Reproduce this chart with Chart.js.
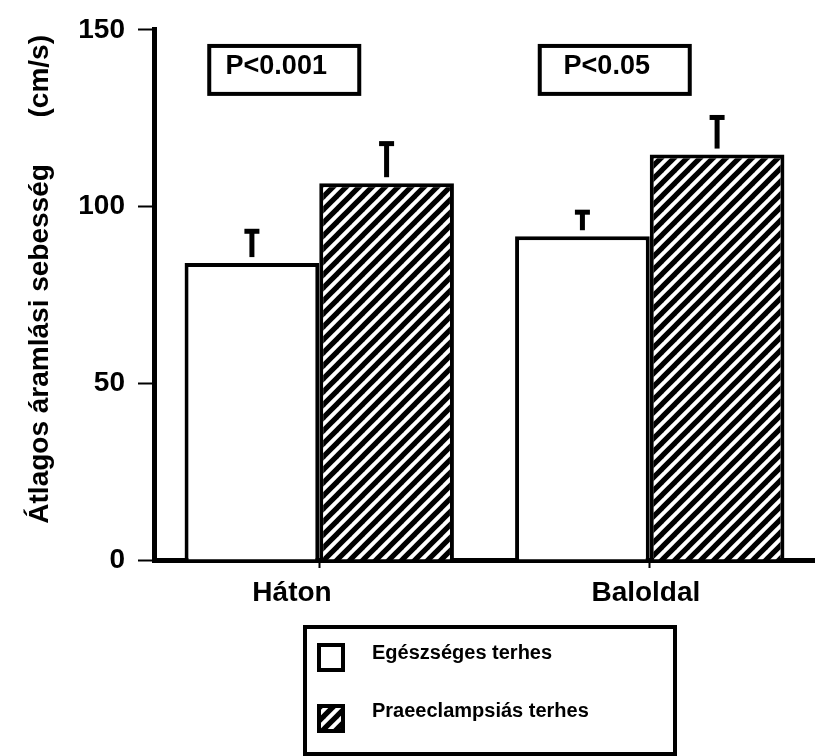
<!DOCTYPE html>
<html>
<head>
<meta charset="utf-8">
<script src="https://cdn.jsdelivr.net/npm/chart.js@4"></script>
<style>
html, body { margin:0; padding:0; background:#fff; overflow:hidden; }
#wrap { width:815px; height:756px; }
</style>
</head>
<body>
<div id="wrap"><canvas id="myChart" width="815" height="756"></canvas></div>
<script>
const kategoriak = ['Háton', 'Baloldal']
const egeszseges = [84, 91.6]
const egeszsegesHiba = [9, 6.8]
const praeeclampsias = [106.6, 114.7]
const praeeclampsiasHiba = [11.2, 10.5]
const pFeliratok = ['P<0.001', 'P<0.05']
const csoportok = ['Egészséges terhes', 'Praeeclampsiás terhes']
const yMin = 0, yMax = 150, yLepes = 50
const yCim = '    Átlagos áramlási sebesség      (cm/s)'

const betu = "'Liberation Sans', Arial, sans-serif"
Chart.defaults.font.family = betu
Chart.defaults.color = '#000'

// csikos minta a praeeclampsias oszlopokhoz
function csikos(){
    const s = 13
    const c = document.createElement('canvas')
    c.width = s; c.height = s
    const g = c.getContext('2d')
    g.fillStyle = '#fff'
    g.fillRect(0, 0, s, s)
    g.strokeStyle = '#000'
    g.lineWidth = 5.2
    for (const k of [-s, 0, s]) {
        g.beginPath()
        g.moveTo(k - 2, s + 2)
        g.lineTo(k + s + 2, -2)
        g.stroke()
    }
    return g.createPattern(c, 'repeat')
}
const minta = csikos()

const extrak = {
    id: 'extrak',
    afterDatasetsDraw(chart){
        const ctx = chart.ctx
        const y = chart.scales.y
        const x = chart.scales.x
        const hibak = [egeszsegesHiba, praeeclampsiasHiba]
        ctx.save()
        ctx.fillStyle = '#000'
        // hibasavok (csak felfele)
        chart.data.datasets.forEach((ds, i) => {
            chart.getDatasetMeta(i).data.forEach((bar, j) => {
                const top = y.getPixelForValue(ds.data[j] + hibak[i][j])
                const alj = bar.y - 6
                ctx.fillRect(bar.x - 2.5, top, 5, alj - top)
                ctx.fillRect(bar.x - 7.5, top - 2.5, 15, 5)
            })
        })
        // P ertekek dobozai
        ctx.font = 'bold 27px ' + betu
        ctx.textAlign = 'center'
        ctx.textBaseline = 'alphabetic'
        pFeliratok.forEach((t, i) => {
            const cx = x.getPixelForValue(i) - 35
            const t1 = y.getPixelForValue(146)
            const t2 = y.getPixelForValue(131.3)
            ctx.lineWidth = 4
            ctx.strokeStyle = '#000'
            ctx.strokeRect(cx - 75, t1 + 2, 150, t2 - t1 - 4)
            ctx.fillText(t, cx - 8, t2 - 22)
        })
        // jelmagyarazat
        const bx = 305, by = 627
        ctx.lineWidth = 4
        ctx.strokeRect(bx, by, 370, 127)
        ctx.font = 'bold 20px ' + betu
        ctx.textAlign = 'left'
        chart.data.datasets.forEach((ds, i) => {
            const sy = 645 + i * 61
            ctx.fillStyle = ds.backgroundColor
            ctx.fillRect(319, sy, 24, 25)
            ctx.strokeRect(319, sy, 24, 25)
            ctx.fillStyle = '#000'
            ctx.fillText(ds.label, 372, 659 + i * 58)
        })
        ctx.restore()
    }
}

new Chart(document.getElementById('myChart'), {
    type: 'bar',
    data: {
        labels: kategoriak,
        datasets: [
            { label: csoportok[0], data: egeszseges, backgroundColor: '#fff',
              borderColor: '#000', borderWidth: 4 },
            { label: csoportok[1], data: praeeclampsias, backgroundColor: minta,
              borderColor: '#000', borderWidth: 4 }
        ]
    },
    options: {
        responsive: false,
        animation: false,
        events: [],
        categoryPercentage: 0.815,
        barPercentage: 1,
        layout: { padding: { left: 0, top: 28, right: -5, bottom: 136 } },
        plugins: { legend: { display: false }, tooltip: { enabled: false } },
        scales: {
            x: {
                afterFit: s => { s.height = 60 },
                grid: { offset: false, drawOnChartArea: false, tickLength: 8, tickWidth: 2, color: '#000' },
                border: { display: true, width: 5, color: '#000' },
                ticks: {
                    font: { size: 28, weight: 'bold' }, padding: 8, color: '#000',
                    // az eredetin a "Háton" felirat kicsit balra csuszott
                    callback: (v, i) => kategoriak[i] + (i === 0 ? '       ' : ' ')
                }
            },
            y: {
                min: yMin, max: yMax,
                afterFit: s => { s.width = 154 },
                grid: { drawOnChartArea: false, tickLength: 16, tickWidth: 2, color: '#000' },
                border: { display: true, width: 5, color: '#000' },
                ticks: { stepSize: yLepes, font: { size: 28, weight: 'bold' }, padding: 13, color: '#000' },
                title: { display: true, text: yCim, font: { size: 28, weight: 'bold' },
                         color: '#000', padding: { top: 23, bottom: 0 } }
            }
        }
    },
    plugins: [extrak]
})
</script>
</body>
</html>
